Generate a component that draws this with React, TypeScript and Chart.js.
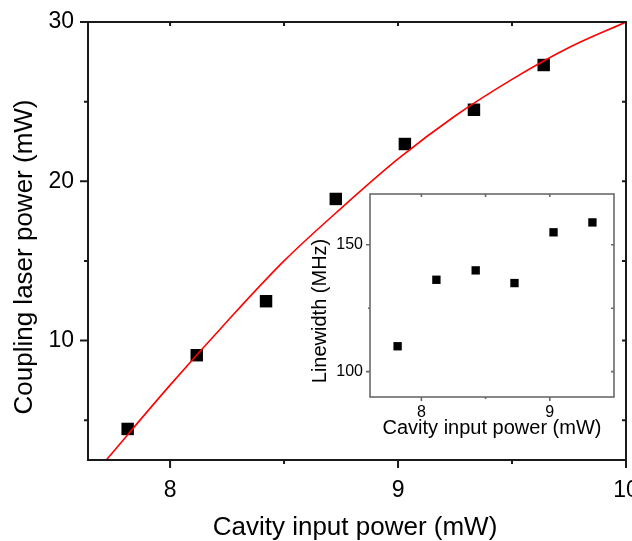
import React, { useEffect, useRef } from "react";
import { Chart, registerables } from "chart.js";
Chart.register(...registerables);

// Main panel data
const mainInputPower = [7.814, 8.117, 8.421, 8.727, 9.03, 9.333, 9.639];
const couplingPower = [4.45, 9.08, 12.47, 18.89, 22.34, 24.49, 27.3];
// Fitted curve
const fitInputPower = [7.72, 8.0, 8.25, 8.5, 8.75, 9.0, 9.25, 9.5, 9.75, 10.0];
const fitCouplingPower = [2.5, 7.2, 11.2, 15.0, 18.3, 21.4, 24.1, 26.4, 28.4, 30.0];
// Inset data
const insetInputPower = [7.815, 8.117, 8.423, 8.725, 9.029, 9.332];
const linewidthMHz = [110.0, 136.2, 139.9, 134.9, 154.9, 158.8];

// Tick values
const mainXMajor = [8, 9, 10];
const mainXMinor = [8.5, 9.5];
const mainYMajor = [10, 20, 30];
const mainYMinor = [5, 15, 25];
const insetXMajor = [8, 9];
const insetXMinor = [8.5];
const insetYMajor = [100, 150];
const insetYMinor = [125];

const FONT = "'Liberation Sans', Arial, Helvetica, sans-serif";

const framePlugin = {
  id: "frameTicks",
  afterDraw(chart: any, _args: any, o: any) {
    const { ctx } = chart;
    const { left, right, top, bottom } = chart.chartArea;
    const xs = chart.scales.x;
    const ys = chart.scales.y;
    ctx.save();
    ctx.strokeStyle = o.color;
    ctx.lineWidth = o.lineWidth;
    ctx.lineCap = "butt";
    ctx.strokeRect(left, top, right - left, bottom - top);
    ctx.beginPath();
    const xTick = (v: number, out: number, inn: number) => {
      const p = xs.getPixelForValue(v);
      ctx.moveTo(p, bottom);
      ctx.lineTo(p, bottom + out);
      ctx.moveTo(p, top);
      ctx.lineTo(p, top + inn);
    };
    const yTick = (v: number, out: number, inn: number) => {
      const p = ys.getPixelForValue(v);
      ctx.moveTo(left, p);
      ctx.lineTo(left - out, p);
      ctx.moveTo(right, p);
      ctx.lineTo(right - inn, p);
    };
    o.xMajor.forEach((v: number) => xTick(v, o.out, o.inn));
    o.xMinor.forEach((v: number) => xTick(v, o.outMinor, o.inn));
    o.yMajor.forEach((v: number) => yTick(v, o.out, o.inn));
    o.yMinor.forEach((v: number) => yTick(v, o.outMinor, o.inn));
    ctx.stroke();

    // axis titles
    ctx.fillStyle = "#000";
    ctx.textBaseline = "alphabetic";
    ctx.textAlign = "center";
    ctx.font = `${o.titleSize}px ${FONT}`;
    ctx.fillText(o.xTitle, o.xTitleX, o.xTitleY);
    ctx.translate(o.yTitleX, o.yTitleY);
    ctx.rotate(-Math.PI / 2);
    ctx.fillText(o.yTitle, 0, 0);
    ctx.restore();
  },
};

function makeScale(
  min: number,
  max: number,
  major: number[],
  tickSize: number,
  tickPad: number,
  fit: (s: any) => void
) {
  return {
    type: "linear",
    min,
    max,
    grid: { display: false, drawTicks: false },
    border: { display: false },
    afterBuildTicks: (s: any) => {
      s.ticks = major.map((v) => ({ value: v }));
    },
    afterFit: fit,
    ticks: {
      color: "#000",
      font: { family: FONT, size: tickSize },
      padding: tickPad,
      maxRotation: 0,
      autoSkip: false,
      callback: (v: any) => String(v),
    },
    title: { display: false },
  };
}

function MainChart() {
  const ref = useRef<HTMLCanvasElement>(null);
  useEffect(() => {
    const chart = new Chart(ref.current as HTMLCanvasElement, {
      type: "scatter",
      data: {
        datasets: [
          {
            label: "fit",
            data: fitInputPower.map((x, i) => ({ x, y: fitCouplingPower[i] })),
            showLine: true,
            borderColor: "#ff0000",
            borderWidth: 1.6,
            pointRadius: 0,
            cubicInterpolationMode: "monotone",
            order: 0,
          } as any,
          {
            label: "data",
            data: mainInputPower.map((x, i) => ({ x, y: couplingPower[i] })),
            pointStyle: "rect",
            pointRadius: 8.8,
            backgroundColor: "#000",
            borderColor: "#000",
            borderWidth: 0,
            order: 1,
          } as any,
        ],
      },
      options: {
        animation: false,
        responsive: false,
        maintainAspectRatio: false,
        layout: { autoPadding: false, padding: { left: 0, top: 22, right: 6, bottom: 0 } },
        plugins: {
          legend: { display: false },
          tooltip: { enabled: false },
          frameTicks: {
            color: "#1a1a1a",
            lineWidth: 2,
            out: 8,
            outMinor: 4,
            inn: 4,
            xMajor: mainXMajor,
            xMinor: mainXMinor,
            yMajor: mainYMajor,
            yMinor: mainYMinor,
            titleSize: 26,
            xTitle: "Cavity input power (mW)",
            xTitleX: 355,
            xTitleY: 535,
            yTitle: "Coupling laser power (mW)",
            yTitleX: 32,
            yTitleY: 257,
          },
        } as any,
        scales: {
          x: makeScale(7.64, 10, mainXMajor, 23, 17, (s: any) => {
            s.height = 81;
            s.paddingLeft = 0;
            s.paddingRight = 0;
          }),
          y: makeScale(2.5, 30, mainYMajor, 23, 14, (s: any) => {
            s.width = 88;
            s.paddingTop = 0;
            s.paddingBottom = 0;
          }),
        } as any,
      },
      plugins: [framePlugin],
    });
    return () => chart.destroy();
  }, []);
  return <canvas ref={ref} width={632} height={541} style={{ position: "absolute", left: 0, top: 0, width: 632, height: 541 }} />;
}

function InsetChart() {
  const ref = useRef<HTMLCanvasElement>(null);
  useEffect(() => {
    const chart = new Chart(ref.current as HTMLCanvasElement, {
      type: "scatter",
      data: {
        datasets: [
          {
            label: "linewidth",
            data: insetInputPower.map((x, i) => ({ x, y: linewidthMHz[i] })),
            pointStyle: "rect",
            pointRadius: 5.9,
            backgroundColor: "#000",
            borderColor: "#000",
            borderWidth: 0,
          } as any,
        ],
      },
      options: {
        animation: false,
        responsive: false,
        maintainAspectRatio: false,
        layout: { autoPadding: false, padding: { left: 0, top: 14, right: 18, bottom: 0 } },
        plugins: {
          legend: { display: false },
          tooltip: { enabled: false },
          frameTicks: {
            color: "#6a6a6a",
            lineWidth: 1.6,
            out: 4,
            outMinor: 2,
            inn: 3,
            xMajor: insetXMajor,
            xMinor: insetXMinor,
            yMajor: insetYMajor,
            yMinor: insetYMinor,
            titleSize: 20,
            xTitle: "Cavity input power (mW)",
            xTitleX: 192,
            xTitleY: 254,
            yTitle: "Linewidth (MHz)",
            yTitleX: 26,
            yTitleY: 131,
          },
        } as any,
        scales: {
          x: makeScale(7.6, 9.5, insetXMajor, 16, 6, (s: any) => {
            s.height = 53;
            s.paddingLeft = 0;
            s.paddingRight = 0;
          }),
          y: makeScale(90, 170, insetYMajor, 16, 7, (s: any) => {
            s.width = 70;
            s.paddingTop = 0;
            s.paddingBottom = 0;
          }),
        } as any,
      },
      plugins: [framePlugin],
    });
    return () => chart.destroy();
  }, []);
  return <canvas ref={ref} width={332} height={270} style={{ position: "absolute", left: 300, top: 180, width: 332, height: 270 }} />;
}

export default function App() {
  return (
    <div style={{ position: "fixed", left: 0, top: 0, width: 632, height: 541, background: "#fff" }}>
      <MainChart />
      <InsetChart />
    </div>
  );
}
